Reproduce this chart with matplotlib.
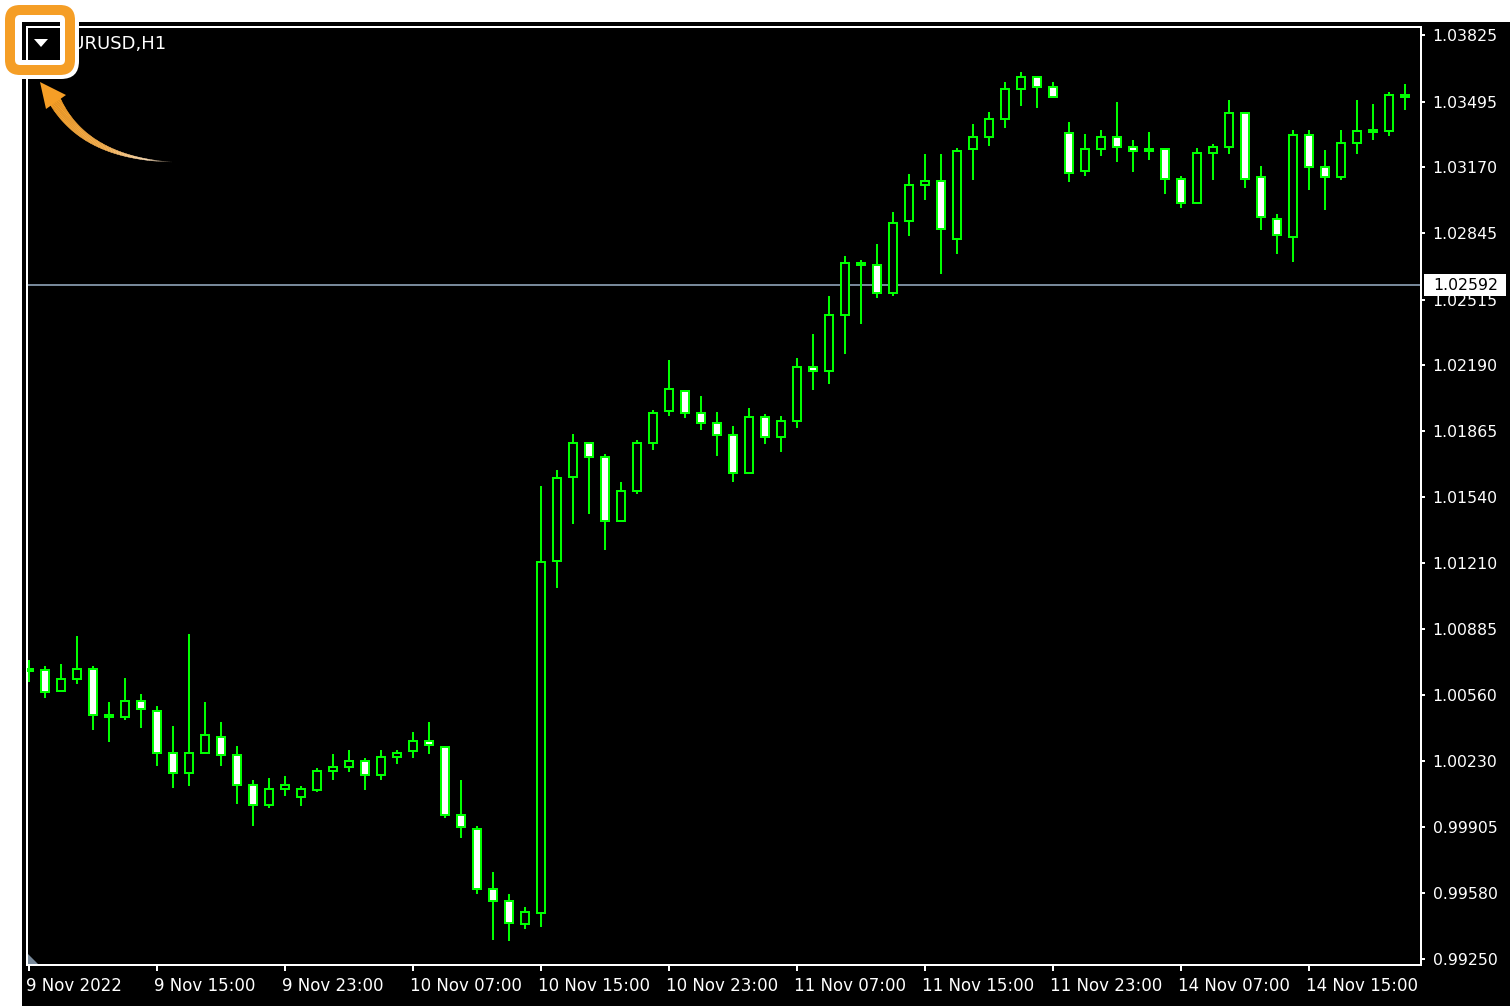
"""EURUSD H1 candles in the MT4 green-on-black scheme, with the orange menu callout."""
import matplotlib
matplotlib.use("Agg")
import matplotlib.pyplot as plt
import numpy as np
from matplotlib.collections import PolyCollection
from matplotlib.patches import FancyBboxPatch, Polygon, Rectangle
from matplotlib.transforms import ScaledTranslation

plt.rcParams["font.family"] = ["DejaVu Sans"]

# prices in points (1e-5)
open_pts = [100687, 100682, 100578, 100637, 100687, 100459, 100449, 100528, 100479, 100271,
            100172, 100271, 100350, 100261, 100113, 100014, 100093, 100053, 100088, 100182,
            100202, 100231, 100162, 100251, 100281, 100330, 100301, 99964, 99895, 99598,
            99538, 99424, 99479, 101221, 101637, 101805, 101736, 101419, 101568, 101805,
            101964, 102063, 101954, 101904, 101845, 101657, 101934, 101835, 101914, 102182,
            102162, 102439, 102696, 102686, 102548, 102904, 103082, 103102, 102815, 103261,
            103320, 103409, 103558, 103617, 103568, 103340, 103152, 103261, 103320, 103271,
            103261, 103261, 103112, 102993, 103241, 103271, 103439, 103122, 102914, 102825,
            103330, 103172, 103122, 103290, 103355, 103350, 103528]
close_pts = [100677, 100573, 100637, 100687, 100459, 100449, 100528, 100489, 100271, 100172,
             100271, 100360, 100261, 100113, 100014, 100093, 100113, 100093, 100182, 100202,
             100231, 100162, 100251, 100271, 100330, 100311, 99964, 99905, 99598, 99538,
             99429, 99484, 101216, 101632, 101805, 101736, 101419, 101568, 101805, 101954,
             102073, 101954, 101904, 101845, 101657, 101934, 101835, 101914, 102182, 102162,
             102439, 102696, 102686, 102548, 102894, 103082, 103102, 102865, 103251, 103320,
             103409, 103558, 103617, 103568, 103518, 103142, 103261, 103320, 103271, 103251,
             103251, 103112, 102993, 103241, 103271, 103439, 103112, 102924, 102835, 103330,
             103172, 103122, 103290, 103350, 103345, 103528, 103518]
high_pts = [100731, 100702, 100711, 100850, 100702, 100523, 100642, 100563, 100504, 100405,
            100860, 100523, 100424, 100306, 100137, 100147, 100157, 100108, 100197, 100266,
            100286, 100246, 100286, 100286, 100375, 100424, 100301, 100137, 99910, 99682,
            99573, 99509, 101593, 101672, 101850, 101805, 101751, 101612, 101820, 101969,
            102216, 102063, 102038, 101959, 101890, 101979, 101949, 101939, 102226, 102345,
            102533, 102731, 102711, 102790, 102949, 103137, 103236, 103236, 103266, 103384,
            103444, 103592, 103642, 103617, 103592, 103394, 103335, 103355, 103493, 103305,
            103345, 103261, 103127, 103266, 103285, 103503, 103439, 103177, 102939, 103355,
            103355, 103256, 103355, 103503, 103483, 103543, 103582]
low_pts = [100622, 100543, 100578, 100612, 100385, 100325, 100434, 100395, 100207, 100098,
           100108, 100271, 100207, 100018, 99910, 99999, 100058, 100009, 100078, 100137,
           100177, 100088, 100137, 100216, 100246, 100266, 99949, 99850, 99573, 99345,
           99340, 99400, 99410, 101088, 101404, 101454, 101276, 101419, 101553, 101771,
           101939, 101929, 101870, 101741, 101612, 101657, 101800, 101761, 101880, 102068,
           102097, 102246, 102394, 102523, 102533, 102830, 103008, 102642, 102741, 103107,
           103276, 103365, 103474, 103464, 103518, 103097, 103127, 103226, 103196, 103147,
           103206, 103038, 102969, 102993, 103107, 103236, 103068, 102860, 102741, 102701,
           103058, 102959, 103107, 103236, 103305, 103325, 103454]

price_ticks = [1.03825, 1.03495, 1.03170, 1.02845, 1.02515, 1.02190, 1.01865, 1.01540,
               1.01210, 1.00885, 1.00560, 1.00230, 0.99905, 0.99580, 0.99250]
time_ticks = [0, 8, 16, 24, 32, 40, 48, 56, 64, 72, 80]
time_labels = ["9 Nov 2022", "9 Nov 15:00", "9 Nov 23:00", "10 Nov 07:00", "10 Nov 15:00",
               "10 Nov 23:00", "11 Nov 07:00", "11 Nov 15:00", "11 Nov 23:00",
               "14 Nov 07:00", "14 Nov 15:00"]
bid_price = 1.02592
bid_line = 1.02588  # where the line sits against the (rounded) axis labels
symbol = "EURUSD,H1"

W, H = 1510, 1006
GREEN = "#00ff00"
ORANGE = "#f59e26"
GREY = "#778899"
PX = 0.72  # one pixel in points at dpi 100
FS = 11.3

o = np.array(open_pts) / 1e5
c = np.array(close_pts) / 1e5
hi = np.array(high_pts) / 1e5
lo = np.array(low_pts) / 1e5
x = np.arange(len(o))

fig = plt.figure(figsize=(W / 100, H / 100), dpi=100, facecolor="black")

# white page edge outside the terminal window
bg = fig.add_axes([0, 0, 1, 1], zorder=0)
bg.set_xlim(0, W); bg.set_ylim(H, 0); bg.axis("off")
bg.add_patch(Rectangle((0, 0), W, 22, fc="white", ec="none"))
bg.add_patch(Rectangle((0, 0), 22, H, fc="white", ec="none"))

# price chart: 16 px per bar, first bar at px 29
left, right, top, bottom = 27, 1421, 27, 965
ax = fig.add_axes([left / W, 1 - bottom / H, (right - left) / W, (bottom - top) / H],
                  zorder=1, facecolor="black")
ax.set_xlim((left - 29) / 16, (right - 29) / 16)
per_px = 0.0000495
ax.set_ylim(1.03825 - (bottom - 35) * per_px, 1.03825 + (35 - top) * per_px)

ax.vlines(x, lo, hi, color=GREEN, lw=2 * PX, antialiased=False, zorder=2)
face = np.where(c < o, "white", "black")
ax.bar(x, c - o, bottom=o, width=0.5, color=face, edgecolor=GREEN, linewidth=2 * PX,
       antialiased=False, zorder=3)
ax.axhline(bid_line, color=GREY, lw=2 * PX, antialiased=False, zorder=1)

for s in ("top", "right", "bottom", "left"):
    ax.spines[s].set_color("white")
    ax.spines[s].set_linewidth(2 * PX)
ax.yaxis.tick_right()
ax.set_yticks(price_ticks, [f"{p:.5f}" for p in price_ticks])
ax.set_xticks(time_ticks, time_labels, ha="left")
ax.tick_params(axis="y", colors="white", length=4 * PX, width=2 * PX, pad=5.5, labelsize=FS)
ax.tick_params(axis="x", colors="white", length=6 * PX, width=2 * PX, pad=4, labelsize=12)
shift = ScaledTranslation(-3 / 100, 0, fig.dpi_scale_trans)
for lab in ax.get_xticklabels():
    lab.set_transform(lab.get_transform() + shift)

# everything that is annotation rather than data, in image pixels
ov = fig.add_axes([0, 0, 1, 1], zorder=2)
ov.set_xlim(0, W); ov.set_ylim(H, 0); ov.axis("off"); ov.patch.set_alpha(0)

ov.add_patch(Polygon([(28, 954), (28, 964), (38, 964)], fc=GREY, ec="none"))
ov.text(166, 44, symbol, color="white", fontsize=13, ha="right", va="center")

ov.add_patch(Rectangle((1424, 274), 82, 22, fc="white", ec="none"))
ov.text(1433, 285, f"{bid_price:.5f}", color="black", fontsize=FS, ha="left", va="center")


def round_box(x0, y0, x1, y1, r, color):
    ov.add_patch(FancyBboxPatch((x0, y0), x1 - x0, y1 - y0,
                                boxstyle=f"round,pad=0,rounding_size={r}", fc=color, ec="none",
                                zorder=3))


round_box(1, 1, 79, 79, 18, "white")
round_box(5, 5, 75, 75, 15, ORANGE)
round_box(15, 15, 65, 65, 5, "white")
ov.add_patch(Rectangle((22, 22), 38, 38, fc="black", ec="none", zorder=3))
ov.add_patch(Rectangle((26, 26), 34, 2, fc="white", ec="none", zorder=3))
ov.add_patch(Rectangle((26, 26), 2, 34, fc="white", ec="none", zorder=3))
ov.add_patch(Polygon([(34, 39), (48, 39), (41, 47)], fc="white", ec="none", zorder=3))

# curved arrow, fading out towards its tail
t = np.linspace(0, 1, 90)
px = (1 - t) ** 2 * 55 + 2 * t * (1 - t) * 85 + t ** 2 * 172
py = (1 - t) ** 2 * 101 + 2 * t * (1 - t) * 158 + t ** 2 * 162
dx, dy = np.gradient(px), np.gradient(py)
norm = np.hypot(dx, dy)
half = 6 * (1 - t) ** 1.2
ux, uy = -dy / norm * half, dx / norm * half
quads = [[(px[i] + ux[i], py[i] + uy[i]), (px[i + 1] + ux[i + 1], py[i + 1] + uy[i + 1]),
          (px[i + 1] - ux[i + 1], py[i + 1] - uy[i + 1]), (px[i] - ux[i], py[i] - uy[i])]
         for i in range(len(t) - 1)]
stops = np.array([[0.96, 0.62, 0.15], [0.97, 0.70, 0.33], [0.99, 0.87, 0.72], [0.0, 0.0, 0.0]])
pos = [0, 0.55, 0.85, 1]
cols = np.column_stack([np.interp(t[:-1], pos, stops[:, k]) for k in range(3)])
ov.add_collection(PolyCollection(quads, facecolors=cols, edgecolors=cols, linewidths=0.3))
ov.add_patch(Polygon([(40, 82), (66, 95), (46, 109)], fc=ORANGE, ec="none"))

fig.savefig("out.png", dpi=100, facecolor="black")
